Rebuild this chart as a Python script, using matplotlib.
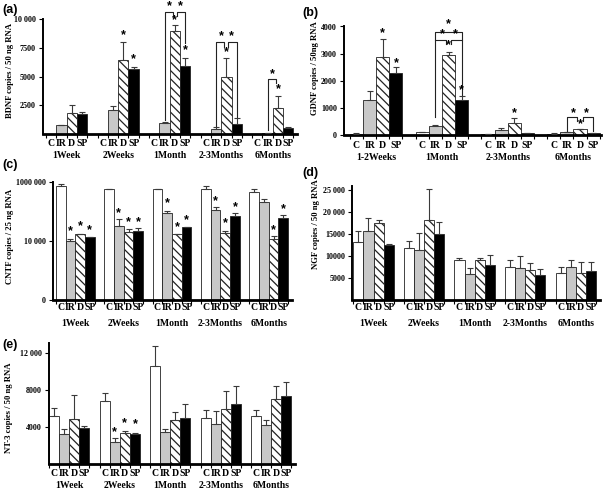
import numpy as np
import matplotlib
matplotlib.use('Agg')
import matplotlib.pyplot as plt
from matplotlib.transforms import blended_transform_factory

W, H = 603, 492
cats = ['C', 'IR', 'D', 'SP']
groups5 = ['1Week', '2Weeks', '1Month', '2-3Months', '6Months']
groups_b = ['1-2Weeks', '1Month', '2-3Months', '6Months']

# (a) BDNF: bar values and top of error bar, per group C, IR, D, SP
bdnf = [[0, 750, 1800, 1750], [0, 2100, 6450, 5700], [0, 930, 9000, 5960],
        [0, 440, 4950, 870], [0, 60, 2300, 550]]
bdnf_top = [[0, 790, 2500, 1900], [0, 2450, 8000, 5880], [0, 1050, 9520, 6640],
            [0, 640, 6600, 1400], [0, 80, 3340, 640]]
# (b) GDNF
gdnf = [[40, 1290, 2880, 2270], [80, 315, 2950, 1270], [30, 170, 435, 60], [40, 80, 190, 60]]
gdnf_top = [[50, 1630, 3530, 2490], [90, 350, 3060, 1410], [35, 230, 620, 70], [45, 95, 210, 70]]
# (c) CNTF
cntf = [[748000, 10000, 17000, 13500], [590000, 33000, 20000, 22000],
        [590000, 90000, 17400, 30000], [590000, 114000, 18500, 71000],
        [467000, 209000, 11400, 60000]]
cntf_top = [[855000, 12300, 18000, 14200], [610000, 56000, 26000, 27500],
            [610000, 110000, 18000, 30500], [750000, 140000, 22700, 89000],
            [575000, 262000, 14400, 75000]]
# (d) NGF
ngf = [[13100, 15750, 17600, 12400], [11750, 11350, 18100, 15000],
       [9100, 5900, 9000, 7900], [7430, 7350, 6750, 5750], [6130, 7580, 6060, 6590]]
ngf_top = [[15700, 18600, 18100, 12650], [13500, 15150, 25150, 17700],
           [9600, 7200, 9550, 10300], [9020, 9920, 8480, 7050], [7580, 9090, 8560, 8560]]
# (e) NT-3
nt3 = [[5190, 3190, 4800, 3900], [6740, 2400, 3300, 3260], [10540, 3410, 4730, 4950],
       [4910, 4300, 5880, 6490], [5160, 4160, 7020, 7280]]
nt3_top = [[5990, 3800, 7390, 4120], [7600, 2760, 3580, 3370], [12760, 3730, 5560, 6420],
           [5810, 5670, 7920, 8360], [5840, 4700, 8360, 8890]]

# significance stars (bar position, y) and brackets (x1, x2, ybar, yleg1, yleg2)
stars_a = [(7, 8650), (8, 6550), (12, 9900), (13, 7340), (17, 7190), (22, 3900),
           (11.5, 11180), (12.5, 11180), (16.5, 8560), (17.5, 8560), (21.5, 5240)]
brk_a = [(11, 11.8, 10680, 1220, 10300), (12.2, 13, 10680, 10300, 7920),
         (16, 16.8, 8060, 700, 7620), (17.2, 18, 8060, 7620, 1510),
         (21, 21.8, 4780, 350, 4430)]
stars_b = [(2, 3770), (3, 2650), (7, 3310), (8, 1630), (12, 780), (17, 390),
           (7, 4100), (6.5, 3710), (7.5, 3710), (16.5, 780), (17.5, 780)]
brk_b = [(6, 8, 3806, 3490, 3490), (6, 6.8, 3490, 650, 3350), (7.2, 8, 3490, 3350, 1480),
         (16, 16.8, 634, 150, 520), (17.2, 18, 634, 520, 120)]
stars_c = [(1, 21000), (2, 32600), (3, 24000), (6, 88000), (7, 42500), (8, 43600),
           (11, 193000), (12, 29400), (13, 52000), (16, 231000), (17, 40500), (18, 141000),
           (22, 24000), (23, 124000)]
stars_e = [(6, 3480), (7, 4420), (8, 4280)]

plt.rcParams['font.family'] = 'Liberation Serif'
plt.rcParams['font.weight'] = 'bold'
plt.rcParams['hatch.linewidth'] = 0.9

fig = plt.figure(figsize=(W / 100, H / 100), dpi=100)
faces = ['white', '#c8c8c8', 'white', 'black']
hatches = [None, None, '\\\\\\\\', None]


def px_axes(l, t, r, b):
    return fig.add_axes([l / W, 1 - b / H, (r - l) / W, (b - t) / H])


def panel(box, xlim, ylim, vals, tops, groups, yticks, ylabels, ylab, ylab_xy,
          cat_y, grp_y, letter, letter_xy, log=False):
    ax = px_axes(*box)
    vals = np.array(vals, float)
    tops = np.array(tops, float)
    for g in range(len(groups)):
        for i in range(4):
            x = g * 5 + i
            v = vals[g, i]
            if v > 0:
                ax.bar(x, v, width=1.0, color=faces[i], edgecolor='#222222',
                       linewidth=0.6, hatch=hatches[i], zorder=2)
            if tops[g, i] > v:
                ax.errorbar(x, v, yerr=[[0], [tops[g, i] - v]], fmt='none',
                            ecolor='#3a3a3a', elinewidth=0.8, capsize=2.5,
                            capthick=0.8, zorder=3)
    if log:
        ax.set_yscale('log')
    ax.set_xlim(*xlim)
    ax.set_ylim(*ylim)
    ax.set_yticks(yticks)
    ax.set_yticklabels(ylabels, fontsize=5.8, fontweight='bold')
    ax.minorticks_off()
    ax.set_xticks(np.arange(-0.5, len(groups) * 5 - 1, 1.0))
    ax.set_xticklabels([])
    ax.tick_params(axis='x', direction='out', length=3, width=0.8)
    ax.tick_params(axis='y', direction='out', length=3, width=0.8, pad=2)
    for s in ['top', 'right']:
        ax.spines[s].set_visible(False)
    ax.spines['left'].set_linewidth(1.4)
    ax.spines['bottom'].set_linewidth(2.0)
    tr = blended_transform_factory(ax.transData, fig.transFigure)
    for g, name in enumerate(groups):
        for i, c in enumerate(cats):
            ax.text(g * 5 + i, 1 - cat_y / H, c, transform=tr, ha='center',
                    va='center', fontsize=7, fontweight='bold')
        ax.text(g * 5 + 1.5, 1 - grp_y / H, name, transform=tr, ha='center',
                va='center', fontsize=7, fontweight='bold')
    fig.text(ylab_xy[0] / W, 1 - ylab_xy[1] / H, ylab, rotation=90,
             ha='center', va='center', fontsize=6.2, fontweight='bold')
    fig.text(letter_xy[0] / W, 1 - letter_xy[1] / H, letter, ha='left', va='center',
             fontsize=9, fontweight='bold', family='Liberation Sans')
    return ax


def add_stars(ax, stars):
    for x, y in stars:
        ax.text(x, y, '*', ha='center', va='center', fontsize=9,
                family='Liberation Sans', clip_on=False, zorder=5)


def add_brackets(ax, brks):
    for x1, x2, yb, y1, y2 in brks:
        ax.plot([x1, x1, x2, x2], [y1, yb, yb, y2], color='#222222', lw=0.8,
                clip_on=False, zorder=4)


ax_a = panel((43, 19.5, 297, 134), (-0.79, 23.85), (0, 10000), bdnf, bdnf_top, groups5,
             [2500, 5000, 7500, 10000], ['2500', '5000', '7500', '10 000'],
             'BDNF copies / 50 ng RNA', (10, 70), 144, 155, '(a)', (2, 10))
add_brackets(ax_a, brk_a)
add_stars(ax_a, stars_a)

ax_b = panel((344, 26.5, 601, 134.6), (-0.95, 18.6), (0, 4000), gdnf, gdnf_top, groups_b,
             [0, 1000, 2000, 3000, 4000], ['0', '1000', '2000', '3000', '4000'],
             'GDNF copies / 50ng RNA', (315, 68), 145.5, 157, '(b)', (302, 13))
add_brackets(ax_b, brk_b)
add_stars(ax_b, stars_b)

ax_c = panel((52.7, 182.3, 292, 300), (-0.84, 23.9), (100, 1e6), cntf, cntf_top, groups5,
             [100, 10000, 1e6], ['0', '10 000', '1000 000'],
             'CNTF copies / 25 ng RNA', (10, 236), 307.5, 323, '(c)', (2, 165), log=True)
add_stars(ax_c, stars_c)

ax_d = panel((352.3, 185.6, 600, 300), (-0.6, 23.9), (0, 26000), ngf, ngf_top, groups5,
             [5000, 10000, 15000, 20000, 25000],
             ['5000', '10000', '15000', '20 000', '25 000'],
             'NGF copies / 50 ng RNA', (316, 224), 307, 323, '(d)', (302, 173))

ax_e = panel((48.5, 343.4, 295, 464), (-0.55, 23.85), (0, 13000), nt3, nt3_top, groups5,
             [4000, 8000, 12000], ['4000', '8000', '12 000'],
             'NT-3 copies / 50 ng RNA', (9, 408), 474, 485, '(e)', (2, 345))
add_stars(ax_e, stars_e)

fig.savefig('out.png', dpi=100)
